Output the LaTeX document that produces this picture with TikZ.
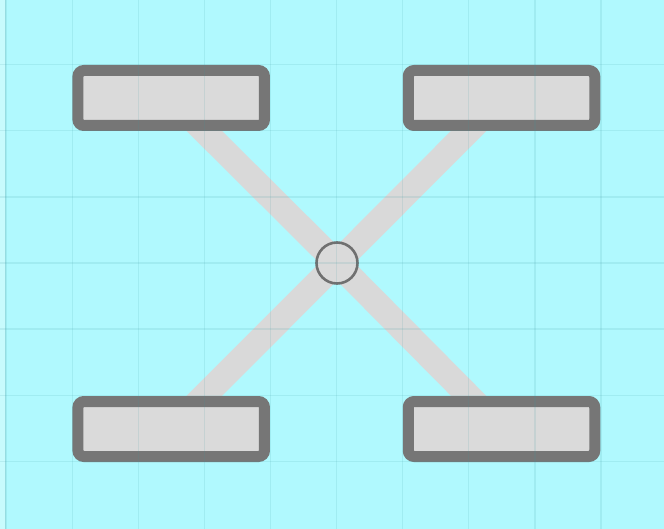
\documentclass[tikz,border=0pt]{standalone}
\usetikzlibrary{backgrounds}
\definecolor{bgcyan}{RGB}{176,249,254}
\definecolor{edgecyan}{RGB}{200,251,253}
\definecolor{edgeline}{RGB}{150,220,225}
\definecolor{gridc}{RGB}{60,150,160}
\definecolor{boxdraw}{RGB}{118,118,118}
\definecolor{boxfill}{RGB}{218,218,218}
\definecolor{linkc}{RGB}{217,217,217}
\pgfdeclarelayer{bg}
\pgfdeclarelayer{links}
\pgfdeclarelayer{fg}
\pgfsetlayers{bg,links,main,fg}
\tikzset{
  slot/.style={draw=boxdraw, fill=boxfill, line width=11pt, rounded corners=6pt,
    minimum width=186.5pt, minimum height=55pt, inner sep=0pt, outer sep=0pt},
  hub/.style={circle, draw=boxdraw!95!black, fill=boxfill, line width=2.6pt,
    minimum size=41pt, inner sep=0pt},
  link/.style={draw=linkc, line width=25pt},
  gridline/.style={draw=gridc, opacity=0.13, line width=1.2pt}
}
\begin{document}
\begin{tikzpicture}[x=1pt,y=-1pt]
\useasboundingbox (0,0) rectangle (664,529);
\begin{pgfonlayer}{bg}
  \fill[bgcyan] (0,0) rectangle (664,529);
  \fill[edgecyan] (0,0) rectangle (5,529);
  \draw[edgeline, line width=1.6pt] (5.5,0) -- (5.5,529);
\end{pgfonlayer}
\node[hub] (c) at (337,263) {};
\node[slot] (tl) at (171.2,98) {};
\node[slot] (tr) at (501.5,98) {};
\node[slot] (bl) at (171.2,429) {};
\node[slot] (br) at (501.5,429) {};
\begin{pgfonlayer}{links}
  \draw[link] (c.center) -- (tl.center);
  \draw[link] (c.center) -- (tr.center);
  \draw[link] (c.center) -- (bl.center);
  \draw[link] (c.center) -- (br.center);
\end{pgfonlayer}
\begin{pgfonlayer}{fg}
  \foreach \k in {0,...,9} {
    \draw[gridline] ({6.5+66.05*\k},0) -- ({6.5+66.05*\k},529);
  }
  \foreach \k in {-3,...,3} {
    \draw[gridline] (0,{263+66.05*\k}) -- (664,{263+66.05*\k});
  }
\end{pgfonlayer}
\end{tikzpicture}
\end{document}
